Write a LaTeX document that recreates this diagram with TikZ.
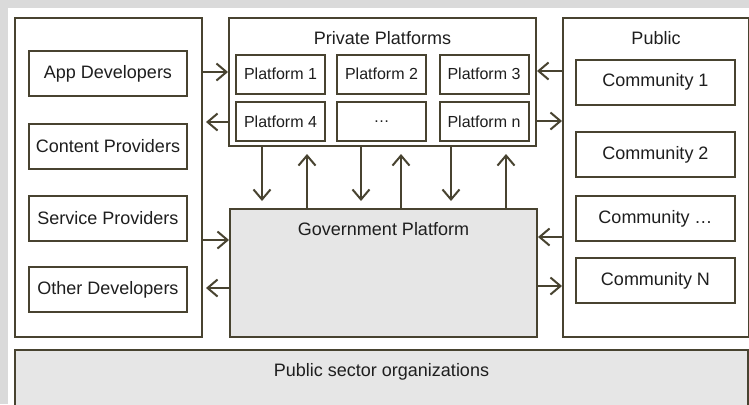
\documentclass[tikz,border=0pt]{standalone}
\usepackage{fontspec}
\setmainfont{Liberation Sans}
\usetikzlibrary{arrows.meta}
\definecolor{edge}{RGB}{72,67,48}
\definecolor{ink}{RGB}{30,30,30}
\definecolor{panel}{RGB}{230,230,230}
\definecolor{margin}{RGB}{218,218,218}
\tikzset{
	box/.style={draw=edge,line width=1pt,rectangle,inner sep=0pt,text=ink},
	member/.style={box,minimum width=79pt,minimum height=22.5pt},
	platform/.style={box,minimum width=44.5pt,minimum height=19.5pt,font=\fontsize{8}{9.6}\selectfont},
	heading/.style={anchor=north,yshift=-3.5pt,text=ink},
	arr/.style={draw=edge,line width=1pt,-{Straight Barb[length=5pt,width=8.5pt,line width=1pt]}}
}
\begin{document}
\begin{tikzpicture}[x=0.5pt,y=-0.5pt,font=\fontsize{9}{10.8}\selectfont]
	\fill[margin] (0,0) rectangle (749,404);
	\fill[white] (8,8) rectangle (749,404);
	\useasboundingbox (0,0) rectangle (749,404);
	% developers
	\node[box,minimum width=93.5pt,minimum height=159.5pt] (devs) at (108.5,177.5) {};
	\node[member] (app) at (108,73.5) {App Developers};
	\node[member] (content) at (108,146) {Content Providers};
	\node[member] (service) at (108,218.5) {Service Providers};
	\node[member] (other) at (108,289.5) {Other Developers};
	% private platforms
	\node[box,minimum width=153.5pt,minimum height=64pt,
		label={[heading]north:Private Platforms}] (priv) at (382.5,82) {};
	\node[platform] (p1) at (280.5,74) {Platform 1};
	\node[platform] (p2) at (381.5,74) {Platform 2};
	\node[platform] (p3) at (484,74) {Platform 3};
	\node[platform] (p4) at (280.5,121.5) {Platform 4};
	\node[platform] (pdots) at (381.5,121.5) {\dots};
	\node[platform] (pn) at (484,121.5) {Platform n};
	% public
	\node[box,minimum width=93pt,minimum height=159.5pt,
		label={[heading]north:Public}] (pub) at (656,177.5) {};
	\node[member,minimum width=79.5pt] (c1) at (655.5,82) {Community 1};
	\node[member,minimum width=79.5pt] (c2) at (655.5,154.5) {Community 2};
	\node[member,minimum width=79.5pt] (cdots) at (655.5,218.5) {Community \dots};
	\node[member,minimum width=79.5pt] (cn) at (655.5,280.5) {Community N};
	% government and public sector
	\node[box,fill=panel,minimum width=153.5pt,minimum height=64pt,
		label={[heading]north:Government Platform}] (gov) at (383.5,273) {};
	\node[box,fill=panel,minimum width=366.5pt,minimum height=40pt,
		label={[heading]north:Public sector organizations}] (orgs) at (381.5,390) {};
	% connectors
	\draw[arr] (devs.east |- 0,72) -- (priv.west |- 0,72);
	\draw[arr,shorten >=1.5pt] (priv.west |- 0,122) -- (devs.east |- 0,122);
	\draw[arr] (pub.west |- 0,71) -- (priv.east |- 0,71);
	\draw[arr] (priv.east |- 0,121) -- (pub.west |- 0,121);
	\draw[arr] (devs.east |- 0,240) -- (gov.west |- 0,240);
	\draw[arr,shorten >=1.5pt] (gov.west |- 0,288) -- (devs.east |- 0,288);
	\draw[arr] (pub.west |- 0,237) -- (gov.east |- 0,237);
	\draw[arr] (gov.east |- 0,286) -- (pub.west |- 0,286);
	\foreach \x in {262,361,451}
		\draw[arr,shorten >=3.5pt] (priv.south -| \x,0) -- (gov.north -| \x,0);
	\foreach \x in {307,401,506}
		\draw[arr,shorten >=3.5pt] (gov.north -| \x,0) -- (priv.south -| \x,0);
\end{tikzpicture}
\end{document}
